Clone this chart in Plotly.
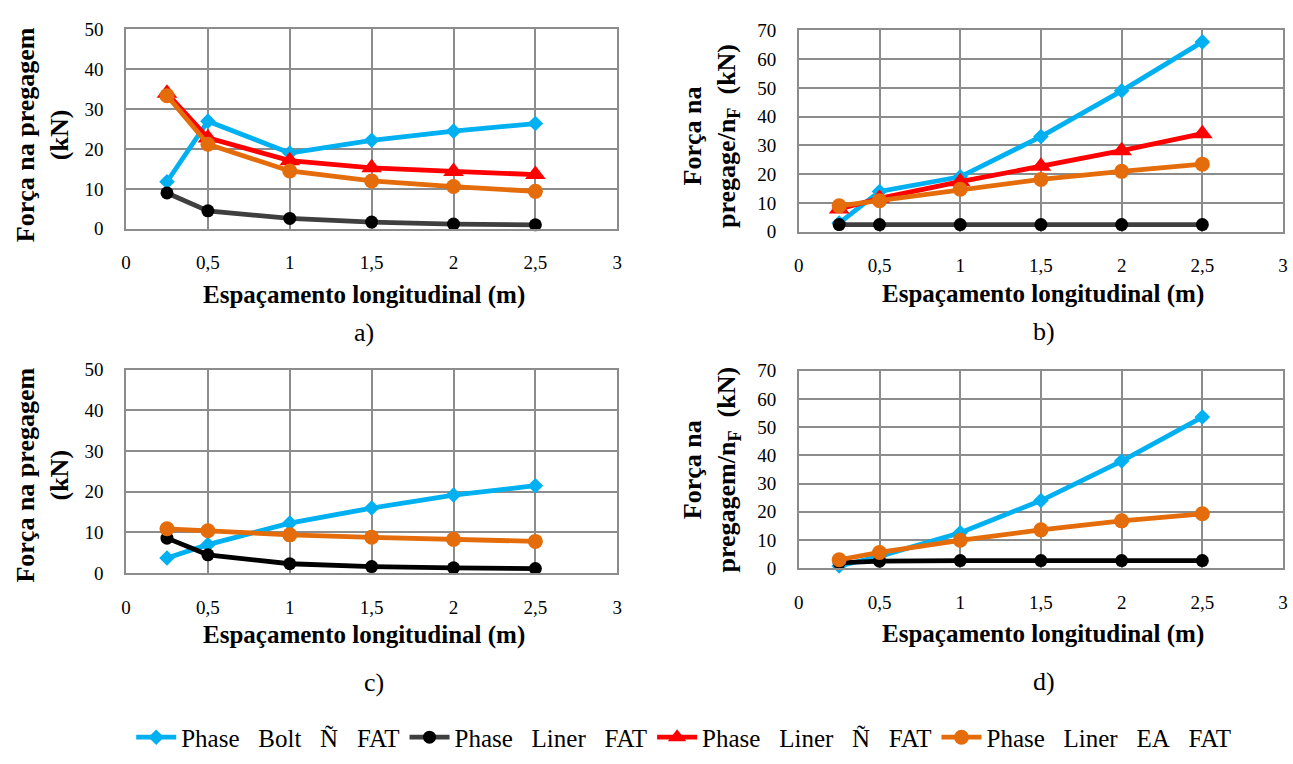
import plotly.graph_objects as go

# Longitudinal spacing (m)
espacamento = [0.25, 0.5, 1.0, 1.5, 2.0, 2.5]

# a) Força na pregagem (kN)
a_bolt_nfat = [11.8, 27.0, 19.0, 22.2, 24.5, 26.4]
a_liner_fat = [9.0, 4.5, 2.6, 1.7, 1.2, 1.0]
a_liner_nfat = [34.0, 22.8, 17.1, 15.3, 14.4, 13.6]
a_liner_ea_fat = [33.4, 21.2, 14.5, 12.0, 10.6, 9.4]

# b) Força na pregagem / nF (kN)
b_bolt_nfat = [3.0, 14.0, 19.1, 33.1, 49.0, 66.0]
b_liner_fat = [2.5, 2.5, 2.5, 2.5, 2.5, 2.5]
b_liner_nfat = [7.9, 11.6, 17.4, 22.8, 28.2, 34.1]
b_liner_ea_fat = [9.0, 10.8, 14.8, 18.2, 21.0, 23.5]

# c) Força na pregagem (kN)
c_bolt_nfat = [3.7, 7.0, 12.3, 16.0, 19.2, 21.5]
c_liner_fat = [8.6, 4.5, 2.3, 1.6, 1.3, 1.1]
c_liner_ea_fat = [10.9, 10.4, 9.4, 8.8, 8.3, 7.8]

# d) Força na pregagem / nF (kN)
d_bolt_nfat = [0.8, 4.2, 12.6, 24.0, 38.0, 53.6]
d_liner_fat = [1.9, 2.5, 2.7, 2.7, 2.7, 2.7]
d_liner_ea_fat = [3.0, 5.6, 9.9, 13.6, 16.8, 19.3]

x_tickvals = [0, 0.5, 1, 1.5, 2, 2.5, 3]
x_ticktext = ["0", "0,5", "1", "1,5", "2", "2,5", "3"]

nb = "\u00a0\u00a0\u00a0"
names = {
    "bolt_nfat": f"Phase{nb}Bolt{nb}Ñ{nb}FAT",
    "liner_fat": f"Phase{nb}Liner{nb}FAT",
    "liner_nfat": f"Phase{nb}Liner{nb}Ñ{nb}FAT",
    "liner_ea_fat": f"Phase{nb}Liner{nb}EA{nb}FAT",
}

BLUE = "#00B0F0"
DARK = "#3f3f3f"
RED = "#FF0000"
ORANGE = "#E46C0A"
GRID = "#8c8c8c"
SERIF = "Times New Roman, Liberation Serif, serif"

W, H = 1293, 764

# plot-area rectangles in pixels: (left, right, top, bottom)
panels = {
    1: (122, 617, 20, 225),
    2: (800, 1288, 21, 228),
    3: (122, 617, 370, 579),
    4: (800, 1288, 371, 574),
}

fig = go.Figure()


def add_series(idx, y, key, color, symbol, size, line_color=None, show=False):
    ax = "" if idx == 1 else str(idx)
    fig.add_trace(go.Scatter(
        x=espacamento, y=y, name=names[key], mode="lines+markers",
        line=dict(color=line_color or color, width=4.8),
        marker=dict(color=color, symbol=symbol, size=size, line=dict(width=0)),
        xaxis="x" + ax, yaxis="y" + ax, showlegend=show, legendgroup=key,
        cliponaxis=False,
    ))


# a)
add_series(1, a_bolt_nfat, "bolt_nfat", BLUE, "diamond", 12, show=True)
add_series(1, a_liner_fat, "liner_fat", "#000000", "circle", 13, line_color=DARK, show=True)
add_series(1, a_liner_nfat, "liner_nfat", RED, "triangle-up", 18, show=True)
add_series(1, a_liner_ea_fat, "liner_ea_fat", ORANGE, "circle", 15, show=True)
# b)
add_series(2, b_bolt_nfat, "bolt_nfat", BLUE, "diamond", 12)
add_series(2, b_liner_fat, "liner_fat", "#000000", "circle", 13, line_color=DARK)
add_series(2, b_liner_nfat, "liner_nfat", RED, "triangle-up", 18)
add_series(2, b_liner_ea_fat, "liner_ea_fat", ORANGE, "circle", 15)
# c)
add_series(3, c_bolt_nfat, "bolt_nfat", BLUE, "diamond", 12)
add_series(3, c_liner_fat, "liner_fat", "#000000", "circle", 13, line_color="#000000")
add_series(3, c_liner_ea_fat, "liner_ea_fat", ORANGE, "circle", 15)
# d)
add_series(4, d_bolt_nfat, "bolt_nfat", BLUE, "diamond", 12)
add_series(4, d_liner_fat, "liner_fat", "#000000", "circle", 13, line_color="#000000")
add_series(4, d_liner_ea_fat, "liner_ea_fat", ORANGE, "circle", 15)

y_ranges = {1: 50, 2: 70, 3: 50, 4: 70}

layout = dict(
    width=W, height=H,
    margin=dict(l=0, r=0, t=0, b=0),
    paper_bgcolor="white", plot_bgcolor="white",
    font=dict(family=SERIF, size=19, color="black"),
    showlegend=True,
    legend=dict(
        orientation="h", x=0.529, xanchor="center", y=(H - 748) / H, yanchor="middle",
        font=dict(family=SERIF, size=25, color="black"),
        itemwidth=40, traceorder="normal", bgcolor="rgba(0,0,0,0)",
    ),
)

for idx, (l, r, t, b) in panels.items():
    ax = "" if idx == 1 else str(idx)
    layout["xaxis" + ax] = dict(
        domain=[l / W, r / W], range=[0, 3], anchor="y" + ax,
        tickvals=x_tickvals, ticktext=x_ticktext,
        showgrid=True, gridcolor=GRID, gridwidth=1.5,
        showline=True, linecolor=GRID, linewidth=1.5, mirror=True,
        ticks="", zeroline=False, ticklabelstandoff=16,
        tickfont=dict(family=SERIF, size=19),
    )
    layout["yaxis" + ax] = dict(
        domain=[(H - b) / H, (H - t) / H], range=[0, y_ranges[idx]], dtick=10,
        anchor="x" + ax,
        showgrid=True, gridcolor=GRID, gridwidth=1.5,
        showline=True, linecolor=GRID, linewidth=1.5, mirror=True,
        ticks="", zeroline=False, ticklabelstandoff=17,
        tickfont=dict(family=SERIF, size=19),
    )

fig.update_layout(**layout)


def px_ann(x, y, text, size, bold=False, angle=0):
    fig.add_annotation(
        x=x / W, y=(H - y) / H, xref="paper", yref="paper",
        text=f"<b>{text}</b>" if bold else text, showarrow=False,
        xanchor="center", yanchor="middle", textangle=angle,
        font=dict(family=SERIF, size=size, color="black"),
    )


x_title = "Espaçamento longitudinal (m)"
px_ann(362, 293, x_title, 25, bold=True)
px_ann(1046, 292, x_title, 25, bold=True)
px_ann(362, 643, x_title, 25, bold=True)
px_ann(1046, 642, x_title, 25, bold=True)

px_ann(38, 128, "Força na pregagem<br>(kN)", 26, bold=True, angle=-90)
px_ann(712, 129, "Força na<br>pregage/n<sub>F</sub>  (kN)", 26, bold=True, angle=-90)
px_ann(38, 478, "Força na pregagem<br>(kN)", 26, bold=True, angle=-90)
px_ann(712, 472, "Força na<br>pregagem/n<sub>F</sub>  (kN)", 26, bold=True, angle=-90)

px_ann(362, 332, "a)", 26)
px_ann(1047, 331, "b)", 26)
px_ann(372, 691, "c)", 26)
px_ann(1047, 690, "d)", 26)

fig.write_html("out.html")
